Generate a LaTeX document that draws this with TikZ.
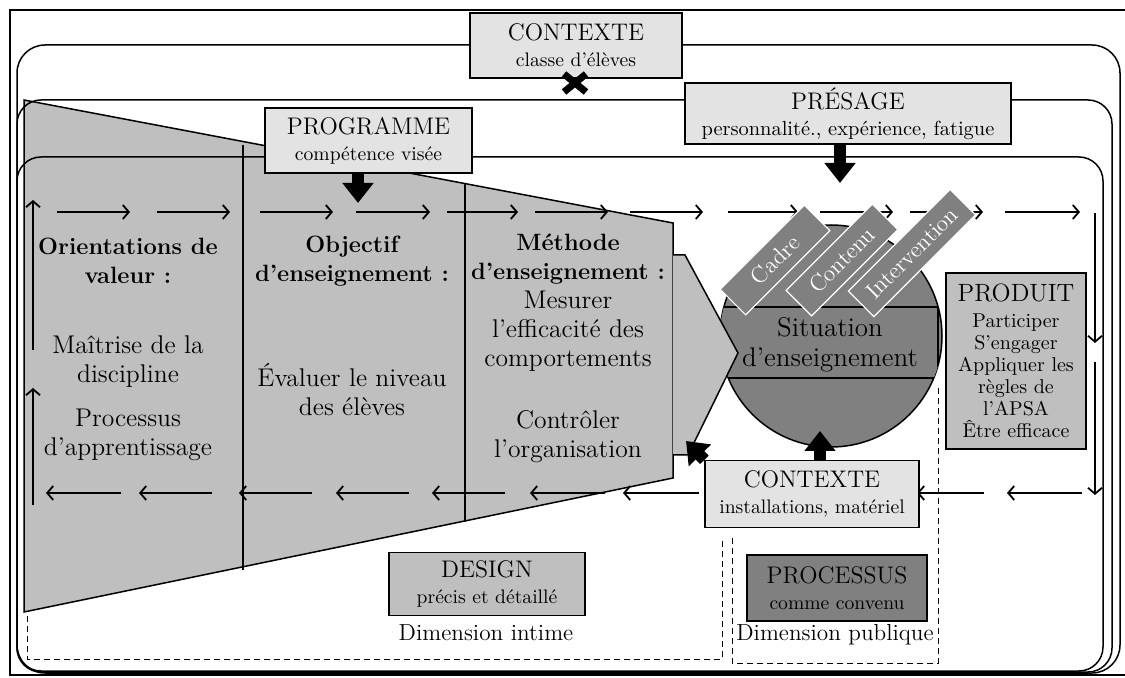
\documentclass[tikz,border=0pt]{standalone}
\usetikzlibrary{arrows.meta}
\definecolor{grisclair}{gray}{0.89}
\definecolor{grismoyen}{gray}{0.75}
\definecolor{grisfonce}{gray}{0.5}
\begin{document}
\begin{tikzpicture}[x=0.5pt,y=-0.5pt,
    boite/.style={draw, line width=0.6pt, align=center, inner sep=0pt, font=\fontsize{9.8}{13}\selectfont},
    texte/.style={align=center, font=\fontsize{12.8}{14.5}\selectfont},
    gras/.style={font=\fontsize{11.8}{14.5}\selectfont\bfseries},
    fleche/.style={line width=0.6pt, -{Straight Barb[length=3pt,width=7pt,line width=0.9pt]}},
    bloc/.style={line width=6pt, -{Triangle[length=10pt,width=15pt]}},
    etiquette/.style={draw=white, line width=0.6pt, fill=grisfonce, text=white, rotate=45,
      minimum height=18pt, inner sep=0pt, font=\fontsize{11.5}{13}\selectfont},
    pointille/.style={dashed, dash pattern=on 3pt off 2pt, line width=0.5pt}]
  \useasboundingbox (0,0) rectangle (1125,678);
  \draw[line width=1.2pt] (10,10) rectangle (1135,675);

  \node[circle, draw, line width=0.75pt, fill=grisfonce, minimum size=111pt, inner sep=0pt] (cercle) at (831,336) {};
  \begin{scope}
    \clip (831,336) circle[radius=111];
    \draw[fill=grisfonce, line width=0.6pt] (715,307) rectangle (938,378);
  \end{scope}
  \node[texte, font=\fontsize{13.5}{15}\selectfont] (situation) at (830,345) {Situation\\d’enseignement};

  \draw[fill=grismoyen, line width=0.75pt] (24,100) -- (673,223) -- (673,478) -- (24,612) -- cycle;
  \draw[fill=grismoyen, line width=0.75pt] (673,255) -- (685,255) -- (738,353) -- (688,455) -- (673,455);
  \draw[line width=0.6pt] (243,145) -- (243,570);
  \draw[line width=0.6pt] (465,184) -- (465,522);

  \draw[line width=0.75pt, rounded corners=14pt] (17,45) rectangle (1120,673);
  \draw[line width=0.75pt, rounded corners=12pt] (17,100) rectangle (1112,672);
  \draw[line width=0.75pt, rounded corners=12pt] (17,157) rectangle (1103,671);

  \foreach \a/\b in {57/130, 157/230, 260/333, 356/430, 447/518, 535/608, 630/703, 728/798, 820/893, 910/983, 1005/1080}
    \draw[fleche] (\a,212) -- (\b,212);
  \foreach \a/\b in {121/46, 212/139, 312/239, 409/336, 505/432, 605/530, 699/623, 984/917, 1082/1007}
    \draw[fleche] (\a,493) -- (\b,493);
  \draw[fleche] (33,350) -- (33,200);
  \draw[fleche] (33,505) -- (33,388);
  \draw[fleche] (1095,213) -- (1095,343);
  \draw[fleche] (1095,362) -- (1095,495);

  \node[etiquette, minimum width=59.5pt] (cadre) at (775,260) {Cadre};
  \node[etiquette, minimum width=61pt] (contenu) at (842,260) {Contenu};
  \node[etiquette, minimum width=72pt] (intervention) at (912,253) {Intervention};

  \node[texte, gras] (orientations) at (128,261) {Orientations de\\valeur :};
  \node[texte] (maitrise) at (128,362) {Maîtrise de la\\discipline};
  \node[texte] (processus) at (128,435) {Processus\\d’apprentissage};
  \node[texte, gras] (objectif) at (352,261) {Objectif\\d’enseignement :};
  \node[texte] (evaluer) at (352,390) {Évaluer le niveau\\des élèves};
  \node[texte] (methode) at (568,303) {{\bfseries\fontsize{11.8}{14.5}\selectfont Méthode}\\{\bfseries\fontsize{11.8}{14.5}\selectfont d’enseignement :}\\Mesurer\\l’efficacité des\\comportements};
  \node[texte] (controler) at (568,437) {Contrôler\\l’organisation};

  \draw[pointille] (27,616) -- (27,659) -- (722,659) -- (722,538);
  \draw[pointille] (732,538) -- (732,663) -- (938,663) -- (938,385);

  \node[boite, fill=grisclair, minimum width=106pt, minimum height=32.5pt] (contexte) at (576,45.5)
    {{\fontsize{12}{13}\selectfont CONTEXTE}\\classe d’élèves};
  \draw[line width=3.5pt] (564,74) -- (586,92) (564,92) -- (586,74);
  \node[boite, fill=grisclair, minimum width=163pt, minimum height=30.5pt, font=\fontsize{10.2}{13}\selectfont] (presage) at (848,113.5)
    {{\fontsize{12}{13}\selectfont PRÉSAGE}\\personnalité., expérience, fatigue};
  \node[boite, fill=grisclair, minimum width=103.5pt, minimum height=32.5pt] (programme) at (368.5,140.5)
    {{\fontsize{12}{13}\selectfont PROGRAMME}\\compétence visée};
  \node[boite, fill=grismoyen, minimum width=70pt, minimum height=88pt, font=\fontsize{10}{11}\selectfont] (produit) at (1016,361)
    {{\fontsize{12.5}{13}\selectfont PRODUIT}\\[2pt]Participer\\S’engager\\Appliquer les\\règles de\\l’APSA\\Être efficace};
  \node[boite, fill=grisclair, minimum width=107pt, minimum height=33.5pt] (contexte2) at (812,494)
    {{\fontsize{12}{13}\selectfont CONTEXTE}\\installations, matériel};
  \node[boite, fill=grismoyen, minimum width=98pt, minimum height=31.5pt] (design) at (487,584)
    {{\fontsize{12}{13}\selectfont DESIGN}\\précis et détaillé};
  \node[boite, fill=grisfonce, minimum width=90pt, minimum height=33pt] (processus2) at (837,588)
    {{\fontsize{12}{13}\selectfont PROCESSUS}\\comme convenu};
  \node[font=\fontsize{11.6}{13}\selectfont] (intime) at (486,633) {Dimension intime};
  \node[font=\fontsize{11.6}{13}\selectfont] (publique) at (835,635) {Dimension publique};

  \coordinate (pprog) at (358,203);
  \coordinate (ppres) at (840,183);
  \coordinate (pctx) at (820,431);
  \coordinate (pdiag) at (686,441);
  \draw[bloc] (programme.south -| pprog) -- (pprog);
  \draw[bloc] (presage.south -| ppres) -- (ppres);
  \draw[bloc] (contexte2.north -| pctx) -- (pctx);
  \draw[bloc] (contexte2.north west) -- (pdiag);
\end{tikzpicture}
\end{document}
